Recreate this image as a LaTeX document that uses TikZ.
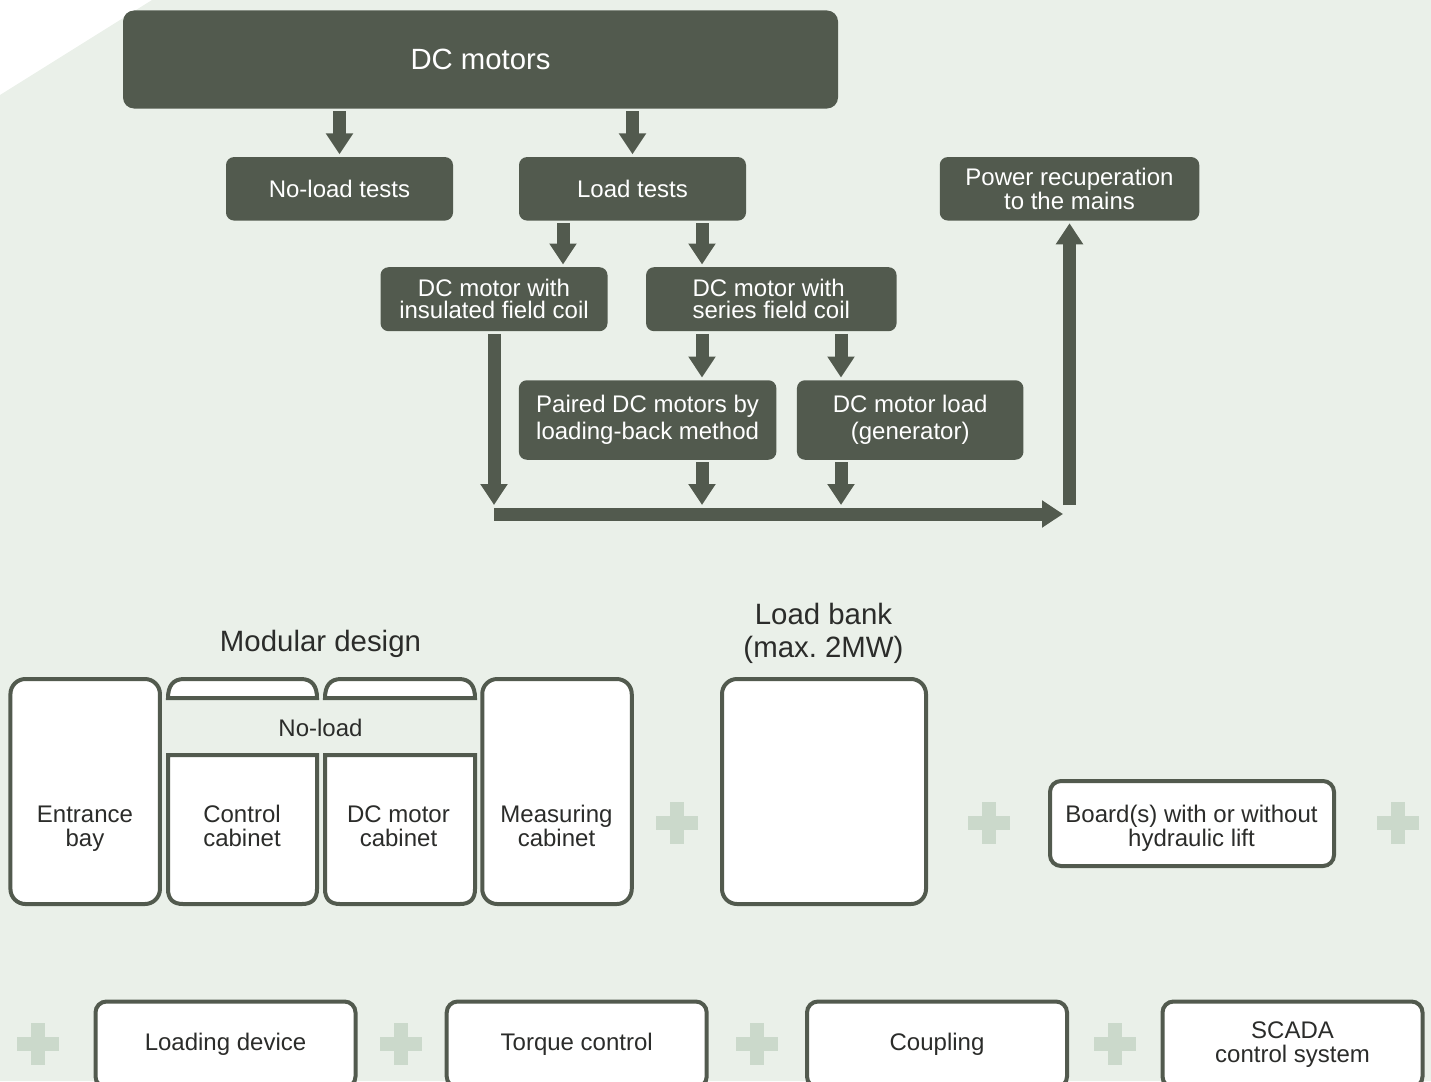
\documentclass[tikz,border=0pt]{standalone}
\usepackage{fontspec}
\setmainfont{Liberation Sans}
\usetikzlibrary{arrows.meta,calc}
\definecolor{bgpale}{HTML}{EAF0E9}
\definecolor{darkgreen}{HTML}{525A4E}
\definecolor{plusgreen}{HTML}{CBD9CB}
\definecolor{inktext}{HTML}{2B2C2A}
\tikzset{
  x=1pt,y=-1pt,
  darkbox/.style={fill=darkgreen,text=white,rounded corners=8pt,inner sep=0pt,align=center,font=\fontsize{24}{22}\selectfont},
  whitebox/.style={draw=darkgreen,line width=4pt,fill=white,text=inktext,rounded corners=15pt,inner sep=0pt,align=center,font=\fontsize{24}{24.5}\selectfont},
  shellpath/.style={draw=darkgreen,line width=4pt,fill=white},
  plainlabel/.style={text=inktext,inner sep=0pt,align=center},
  bigarrow/.style={draw=darkgreen,line width=13pt,-{Triangle[length=21pt,width=26pt,color=darkgreen]},shorten >=2.5pt,shorten <=2.5pt},
}
\newcommand{\plusmark}[2]{%
  \fill[plusgreen] (#1-21,#2-7) rectangle (#1+21,#2+7);
  \fill[plusgreen] (#1-7,#2-21) rectangle (#1+7,#2+21);}
\newcommand{\tabshell}[2]{%
  \draw[shellpath] (#1,698) .. controls (#1,686) and (#1+5,679) .. (#1+16,679)
    -- (#2-16,679) .. controls (#2-5,679) and (#2,686) .. (#2,698) -- cycle;}
\newcommand{\cabshell}[2]{%
  \draw[shellpath] (#1,755) -- (#1,889) .. controls (#1,899) and (#1+5,904) .. (#1+15,904)
    -- (#2-15,904) .. controls (#2-5,904) and (#2,899) .. (#2,889) -- (#2,755) -- cycle;}
\begin{document}
\frenchspacing
\begin{tikzpicture}
\useasboundingbox (0,0) rectangle (1431,1081);
\clip (0,0) rectangle (1431,1081);
\fill[bgpale] (0,95) -- (152,0) -- (1431,0) -- (1431,1081) -- (0,1081) -- cycle;

% dark boxes
\node[darkbox,rounded corners=11pt,minimum width=715pt,minimum height=98pt,font=\fontsize{29.3}{30}\selectfont] (dc) at (480.5,59.5) {\raisebox{-1pt}{DC motors}};
\node[darkbox,minimum width=227pt,minimum height=63.5pt] (noload) at (339.5,188.8) {No-load tests};
\node[darkbox,minimum width=227pt,minimum height=63.5pt] (load) at (632.5,188.8) {Load tests};
\node[darkbox,minimum width=259.5pt,minimum height=63.5pt] (power) at (1069.5,188.8) {Power recuperation\\to the mains};
\node[darkbox,minimum width=227pt,minimum height=64pt] (insul) at (494,299.2) {DC motor with\\insulated field coil};
\node[darkbox,minimum width=250.5pt,minimum height=64pt,align=left] (series) at (771.3,299.2) {DC motor with\\series field coil};
\node[darkbox,minimum width=257.5pt,minimum height=79.5pt,font=\fontsize{24}{27}\selectfont] (paired) at (647.6,420) {Paired DC motors by\\loading-back method};
\node[darkbox,minimum width=226.5pt,minimum height=79.5pt,font=\fontsize{24}{27}\selectfont] (genr) at (910.2,420) {DC motor load\\(generator)};

% guide coordinates
\coordinate (xa) at (563,0);
\coordinate (xb) at (702,0);
\coordinate (xc) at (841,0);
\coordinate (bustop) at (0,507.5);
\coordinate (busstart) at (494,514);
\coordinate (busend) at (1065.5,514);

% arrows
\draw[bigarrow] (dc.south -| noload.north) -- (noload.north);
\draw[bigarrow] (dc.south -| load.north) -- (load.north);
\draw[bigarrow] (xa |- load.south) -- (xa |- insul.north);
\draw[bigarrow] (xb |- load.south) -- (xb |- series.north);
\draw[bigarrow] (insul.south) -- (insul.south |- bustop);
\draw[bigarrow] (xb |- series.south) -- (xb |- paired.north);
\draw[bigarrow] (xc |- series.south) -- (xc |- genr.north);
\draw[bigarrow] (xb |- paired.south) -- (xb |- bustop);
\draw[bigarrow] (xc |- genr.south) -- (xc |- bustop);
\draw[bigarrow,shorten <=0pt] (busstart) -- (busend);
\draw[bigarrow] (power.south |- bustop) -- (power.south);

% headings
\node[plainlabel,font=\fontsize{29.4}{33}\selectfont] (modular) at (320.5,644) {Modular design};
\node[plainlabel,font=\fontsize{29.4}{33}\selectfont] (bankt) at (823.5,633) {Load bank\\(max. 2MW)};
\node[plainlabel,font=\fontsize{24}{24}\selectfont] (noloadt) at (320.5,727.5) {No-load};

% cabinets
\node[whitebox,minimum width=149.5pt,minimum height=225pt] (entr) at (85.2,791.5) {};
\node[plainlabel,font=\fontsize{24}{24.5}\selectfont] (entrt) at (85,828.5) {Entrance\\bay};

\tabshell{168}{317}
\tabshell{325}{475}
\cabshell{168}{317}
\cabshell{325}{475}
\node[plainlabel,font=\fontsize{24}{24.5}\selectfont] (ctrl) at (242,826) {Control\\cabinet};
\node[plainlabel,font=\fontsize{24}{24.5}\selectfont] (dcm) at (398.5,826) {DC motor\\cabinet};

\node[whitebox,minimum width=149.5pt,minimum height=225pt] (meas) at (557,791.5) {};
\node[plainlabel,font=\fontsize{24}{24.5}\selectfont] (meast) at (556.5,826) {Measuring\\cabinet};

\node[whitebox,minimum width=204pt,minimum height=225pt] (bank) at (824,791.5) {};
\node[whitebox,rounded corners=11pt,minimum width=284pt,minimum height=85pt] (board) at (1192,823.5) {};
\node[plainlabel,font=\fontsize{24}{24.5}\selectfont] (boardt) at (1191.5,828.5) {Board(s) with or without\\hydraulic lift};

% bottom row
\node[whitebox,rounded corners=11pt,minimum width=260pt,minimum height=86pt] (loading) at (225.5,1044.5) {Loading device};
\node[whitebox,rounded corners=11pt,minimum width=260pt,minimum height=86pt] (torque) at (576.7,1044.5) {Torque control};
\node[whitebox,rounded corners=11pt,minimum width=260pt,minimum height=86pt] (coupling) at (937,1044.5) {Coupling};
\node[whitebox,rounded corners=11pt,minimum width=260pt,minimum height=86pt] (scada) at (1292.5,1044.5) {SCADA\\control system};

% plus signs
\plusmark{677}{823}
\plusmark{989}{823}
\plusmark{1398}{823}
\plusmark{38}{1044}
\plusmark{401}{1044}
\plusmark{757}{1044}
\plusmark{1115}{1044}
\end{tikzpicture}
\end{document}
